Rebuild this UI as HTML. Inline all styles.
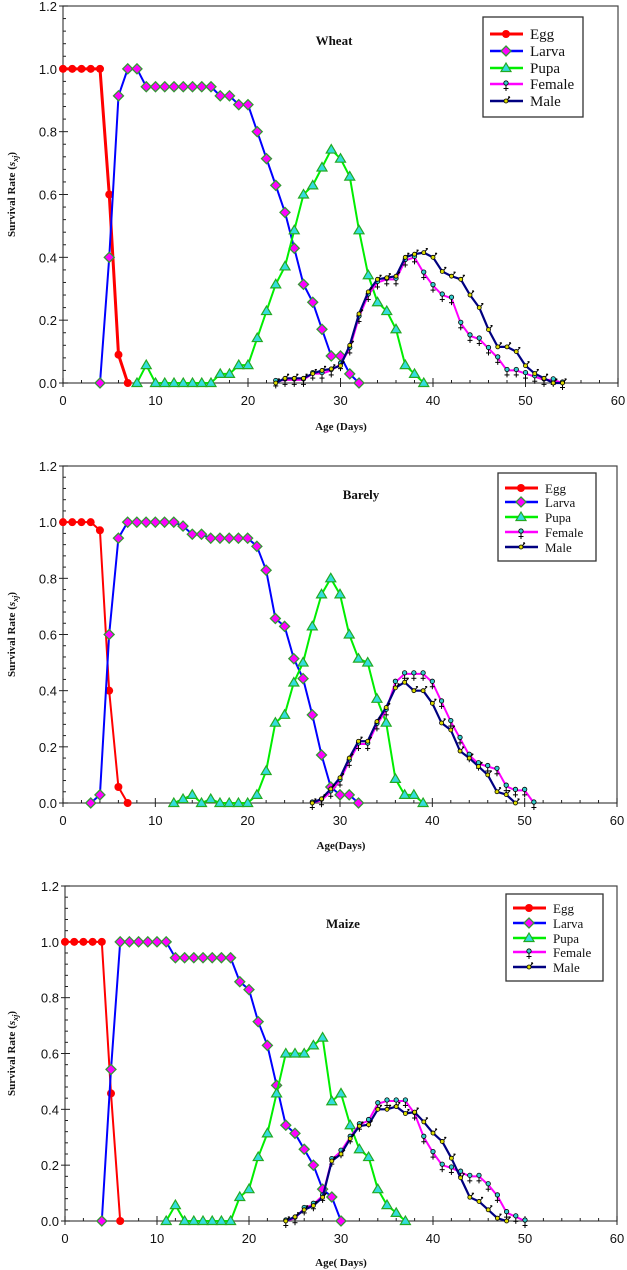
<!DOCTYPE html>
<html><head><meta charset="utf-8"><style>
html,body{margin:0;padding:0;background:#fff;}
svg{display:block;}
</style></head><body>
<svg id="chart" width="627" height="1270" viewBox="0 0 627 1270" xmlns="http://www.w3.org/2000/svg"></svg>
<script>
// ---- data: Wheat ----
const wheatEggDays=[0,1,2,3,4,5,6,7];
const wheatEgg=[1,1,1,1,1,0.6,0.09,0];
const wheatLarvaDays=[4,5,6,7,8,9,10,11,12,13,14,15,16,17,18,19,20,21,22,23,24,25,26,27,28,29,30,31,32];
const wheatLarva=[0,0.4,0.914,1,1,0.943,0.943,0.943,0.943,0.943,0.943,0.943,0.943,0.914,0.914,0.886,0.886,0.8,0.714,0.629,0.543,0.429,0.314,0.257,0.171,0.086,0.086,0.029,0];
const wheatPupaDays=[8,9,10,11,12,13,14,15,16,17,18,19,20,21,22,23,24,25,26,27,28,29,30,31,32,33,34,35,36,37,38,39];
const wheatPupa=[0,0.057,0,0,0,0,0,0,0,0.029,0.029,0.057,0.057,0.143,0.229,0.314,0.371,0.486,0.6,0.629,0.686,0.743,0.714,0.657,0.486,0.343,0.257,0.229,0.171,0.057,0.029,0];
const wheatAdultDays=[23,24,25,26,27,28,29,30,31,32,33,34,35,36,37,38,39,40,41,42,43,44,45,46,47,48,49,50,51,52,53,54];
const wheatFemale=[0.005,0.01,0.01,0.01,0.03,0.03,0.04,0.06,0.11,0.21,0.28,0.32,0.33,0.33,0.39,0.40,0.35,0.31,0.28,0.27,0.19,0.15,0.14,0.11,0.08,0.04,0.04,0.03,0.02,0.01,0.01,0];
const wheatMale=[0,0.015,0.015,0.015,0.03,0.04,0.045,0.055,0.12,0.22,0.29,0.33,0.335,0.34,0.40,0.41,0.415,0.40,0.355,0.34,0.33,0.28,0.24,0.17,0.115,0.115,0.10,0.055,0.03,0.015,0,0];
// ---- data: Barely ----
const barelyEggDays=[0,1,2,3,4,5,6,7];
const barelyEgg=[1,1,1,1,0.971,0.4,0.057,0];
const barelyLarvaDays=[3,4,5,6,7,8,9,10,11,12,13,14,15,16,17,18,19,20,21,22,23,24,25,26,27,28,29,30,31,32];
const barelyLarva=[0,0.029,0.6,0.943,1,1,1,1,1,1,0.986,0.957,0.957,0.943,0.943,0.943,0.943,0.943,0.914,0.829,0.657,0.629,0.514,0.443,0.314,0.171,0.057,0.029,0.029,0];
const barelyPupaDays=[12,13,14,15,16,17,18,19,20,21,22,23,24,25,26,27,28,29,30,31,32,33,34,35,36,37,38,39];
const barelyPupa=[0,0.014,0.029,0,0.014,0,0,0,0,0.029,0.114,0.286,0.314,0.429,0.5,0.629,0.743,0.8,0.743,0.6,0.514,0.5,0.371,0.286,0.086,0.029,0.029,0];
const barelyFemaleDays=[27,28,29,30,31,32,33,34,35,36,37,38,39,40,41,42,43,44,45,46,47,48,49,50,51];
const barelyFemale=[0,0.01,0.04,0.08,0.15,0.21,0.21,0.28,0.33,0.43,0.46,0.46,0.46,0.43,0.36,0.29,0.23,0.17,0.14,0.13,0.12,0.06,0.045,0.045,0];
const barelyMaleDays=[27,28,29,30,31,32,33,34,35,36,37,38,39,40,41,42,43,44,45,46,47,48,49];
const barelyMale=[0,0.015,0.05,0.09,0.16,0.22,0.22,0.29,0.34,0.41,0.43,0.40,0.40,0.355,0.285,0.26,0.185,0.16,0.13,0.10,0.04,0.03,0];
// ---- data: Maize ----
const maizeEggDays=[0,1,2,3,4,5,6];
const maizeEgg=[1,1,1,1,1,0.457,0];
const maizeLarvaDays=[4,5,6,7,8,9,10,11,12,13,14,15,16,17,18,19,20,21,22,23,24,25,26,27,28,29,30];
const maizeLarva=[0,0.543,1,1,1,1,1,1,0.943,0.943,0.943,0.943,0.943,0.943,0.943,0.857,0.829,0.714,0.629,0.486,0.343,0.314,0.257,0.2,0.114,0.086,0];
const maizePupaDays=[11,12,13,14,15,16,17,18,19,20,21,22,23,24,25,26,27,28,29,30,31,32,33,34,35,36,37];
const maizePupa=[0,0.057,0,0,0,0,0,0,0.086,0.114,0.229,0.314,0.457,0.6,0.6,0.6,0.629,0.657,0.429,0.457,0.343,0.257,0.229,0.114,0.057,0.029,0];
const maizeFemaleDays=[24,25,26,27,28,29,30,31,32,33,34,35,36,37,38,39,40,41,42,43,44,45,46,47,48,49,50];
const maizeFemale=[0,0.01,0.045,0.06,0.09,0.22,0.25,0.30,0.345,0.36,0.42,0.43,0.43,0.43,0.385,0.30,0.245,0.20,0.19,0.175,0.16,0.16,0.13,0.09,0.03,0.015,0];
const maizeMaleDays=[24,25,26,27,28,29,30,31,32,33,34,35,36,37,38,39,40,41,42,43,44,45,46,47,48];
const maizeMale=[0,0.015,0.04,0.055,0.085,0.215,0.24,0.295,0.34,0.345,0.40,0.40,0.41,0.385,0.39,0.355,0.315,0.285,0.225,0.155,0.085,0.07,0.04,0.01,0];
const xTicks=[0,10,20,30,40,50,60];
const yTicks=[0,0.2,0.4,0.6,0.8,1.0,1.2];
const seriesNames=["Egg","Larva","Pupa","Female","Male"];

const NS="http://www.w3.org/2000/svg";
const svg=document.getElementById('chart');
function mk(tag,attrs,parent){const e=document.createElementNS(NS,tag);for(const k in attrs)e.setAttribute(k,attrs[k]);(parent||svg).appendChild(e);return e;}

const panels=[
 {name:'wheat',title:'Wheat',L:63,R:618,T:6,B:383,titleX:334,titleY:45,xlab:'Age (Days)',xlabY:430,legX:483,legY:17,legW:100,legH:100,legRows:[34,51,68,84,101],legFont:15,eggW:3,
  s:[[wheatEggDays,wheatEgg],[wheatLarvaDays,wheatLarva],[wheatPupaDays,wheatPupa],[wheatAdultDays,wheatFemale],[wheatAdultDays,wheatMale]]},
 {name:'barely',title:'Barely',L:63,R:617,T:466,B:803,titleX:361,titleY:499,xlab:'Age(Days)',xlabY:849,legX:498,legY:473,legW:98,legH:88,legRows:[488,502,517,532,547],legFont:13,eggW:2,
  s:[[barelyEggDays,barelyEgg],[barelyLarvaDays,barelyLarva],[barelyPupaDays,barelyPupa],[barelyFemaleDays,barelyFemale],[barelyMaleDays,barelyMale]]},
 {name:'maize',title:'Maize',L:65,R:617,T:886,B:1221,titleX:343,titleY:928,xlab:'Age( Days)',xlabY:1266,legX:506,legY:894,legW:97,legH:87,legRows:[908,923,938,952,967],legFont:13,eggW:2,
  s:[[maizeEggDays,maizeEgg],[maizeLarvaDays,maizeLarva],[maizePupaDays,maizePupa],[maizeFemaleDays,maizeFemale],[maizeMaleDays,maizeMale]]}
];
const colors=['#ff0000','#0000ff','#00ee00','#ff00ff','#000080'];
const lw=[3,2,2,2,2.2];

function marker(g,k,x,y){
  if(k===0){const m=mk('circle',{cx:x,cy:y,r:4,fill:'#ff0000'},g);}
  else if(k===1){const m=mk('polygon',{points:`${x},${y-5} ${x+5},${y} ${x},${y+5} ${x-5},${y}`,fill:'#ff00ff',stroke:'#339933','stroke-width':1.3},g);}
  else if(k===2){const m=mk('polygon',{points:`${x},${y-5} ${x+5},${y+3.5} ${x-5},${y+3.5}`,fill:'#33dddd',stroke:'#22aa22','stroke-width':1.2},g);}
  else if(k===3){const m=mk('g',{},g);
    mk('line',{x1:x,y1:y+1,x2:x,y2:y+7,stroke:'#000','stroke-width':1},m);mk('line',{x1:x-2.5,y1:y+4.5,x2:x+2.5,y2:y+4.5,stroke:'#000','stroke-width':1},m);
    mk('circle',{cx:x,cy:y-1,r:2.2,fill:'#33cccc',stroke:'#000','stroke-width':0.8},m);}
  else {const m=mk('g',{},g);
    mk('line',{x1:x,y1:y,x2:x+4,y2:y-4,stroke:'#000','stroke-width':1},m);mk('line',{x1:x+2,y1:y-4,x2:x+4,y2:y-4,stroke:'#000','stroke-width':1.2},m);
    mk('circle',{cx:x,cy:y,r:2,fill:'#dddd00',stroke:'#000','stroke-width':0.8},m);}
}

panels.forEach(p=>{
  const g=mk('g',{});
  
  
  const xs=d=>p.L+(d/60)*(p.R-p.L);
  const ys=v=>p.B-(v/1.2)*(p.B-p.T);
  const frame=mk('rect',{x:p.L,y:p.T,width:p.R-p.L,height:p.B-p.T,fill:'none',stroke:'#444','stroke-width':1.2},g);
  
  for(let d=0;d<=60;d+=2){const major=d%10===0;mk('line',{x1:xs(d),y1:p.B,x2:xs(d),y2:p.B-(major?5:3),stroke:'#222','stroke-width':1},g);}
  for(let i=0;i<=30;i++){const v=i*0.04;const major=i%5===0;mk('line',{x1:p.L,y1:ys(v),x2:p.L+(major?5:3),y2:ys(v),stroke:'#222','stroke-width':1},g);}
  xTicks.forEach(t=>{mk('line',{x1:xs(t),y1:p.B,x2:xs(t),y2:p.B+4,stroke:'#222','stroke-width':1},g);
    const tl=mk('text',{x:xs(t),y:p.B+22,'text-anchor':'middle','font-family':'Liberation Sans, sans-serif','font-size':13,fill:'#111'},g);tl.textContent=t;
    });
  yTicks.forEach(t=>{mk('line',{x1:p.L-4,y1:ys(t),x2:p.L,y2:ys(t),stroke:'#222','stroke-width':1},g);
    const tl=mk('text',{x:p.L-6,y:ys(t)+5,'text-anchor':'end','font-family':'Liberation Sans, sans-serif','font-size':13,fill:'#111'},g);tl.textContent=t.toFixed(1);
    });
  const xt=mk('text',{x:341,y:p.xlabY,'text-anchor':'middle','font-family':'Liberation Serif, serif','font-weight':'bold','font-size':11,fill:'#111'},g);xt.textContent=p.xlab;
  
  const cy=(p.T+p.B)/2;
  const yt=mk('text',{x:0,y:0,transform:`translate(15,${cy}) rotate(-90)`,'text-anchor':'middle','font-family':'Liberation Serif, serif','font-weight':'bold','font-size':11,fill:'#111'},g);
  yt.innerHTML='Survival Rate (<tspan font-style="italic">s</tspan><tspan font-style="italic" font-size="8" dy="3">xj</tspan><tspan dy="-3">)</tspan>';
  
  const tt=mk('text',{x:p.titleX,y:p.titleY,'text-anchor':'middle','font-family':'Liberation Serif, serif','font-weight':'bold','font-size':13,fill:'#111'},g);tt.textContent=p.title;
  
  p.s.forEach((s,k)=>{
    const [days,vals]=s;
    const sg=mk('g',{},g);
    
    
    const pts=days.map((d,i)=>xs(d)+','+ys(vals[i])).join(' ');
    mk('polyline',{points:pts,fill:'none',stroke:colors[k],'stroke-width':k===0?p.eggW:lw[k],'stroke-linejoin':'round'},sg);
    days.forEach((d,i)=>marker(sg,k,xs(d),ys(vals[i])));
  });
  const lg=mk('g',{},g);
  
  
  mk('rect',{x:p.legX,y:p.legY,width:p.legW,height:p.legH,fill:'#fff',stroke:'#333','stroke-width':1.3},lg);
  seriesNames.forEach((n,k)=>{
    const y=p.legRows[k];
    const e=mk('g',{},lg);
    
    
    mk('line',{x1:p.legX+7,y1:y,x2:p.legX+40,y2:y,stroke:colors[k],'stroke-width':k===0?3:2.5},e);
    marker(e,k,p.legX+23,y);
    const t=mk('text',{x:p.legX+47,y:y+5,'font-family':'Liberation Serif, serif','font-size':p.legFont,fill:'#111'},e);t.textContent=n;
  });
});
</script>
</body></html>
